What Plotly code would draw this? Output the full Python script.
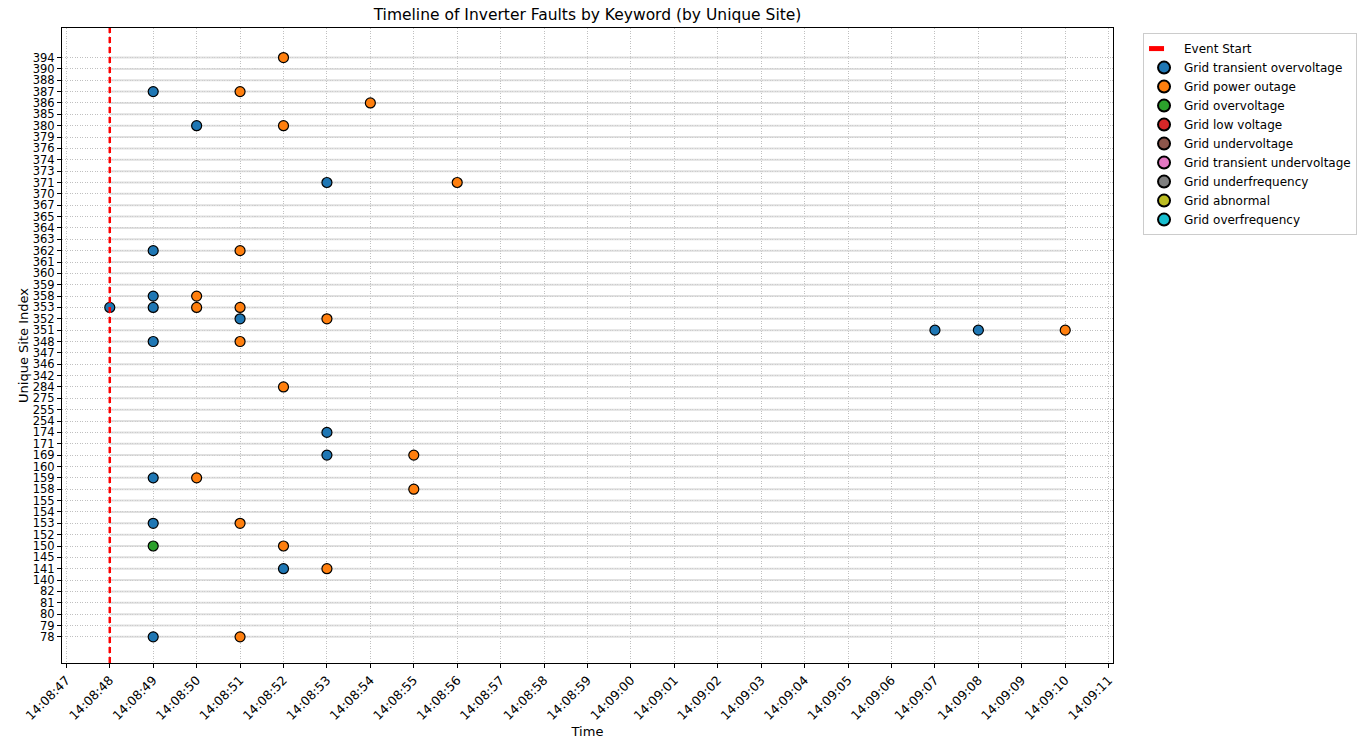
import plotly.graph_objects as go

# ---- data ----
sites = [78, 79, 80, 81, 82, 140, 141, 145, 150, 152, 153, 154, 155, 158, 159, 160,
         169, 171, 174, 254, 255, 275, 284, 342, 346, 347, 348, 351, 352, 353, 358,
         359, 360, 361, 362, 363, 364, 365, 367, 370, 371, 373, 374, 376, 379, 380,
         385, 386, 387, 388, 390, 394]

keywords = ["Grid transient overvoltage", "Grid power outage", "Grid overvoltage",
            "Grid low voltage", "Grid undervoltage", "Grid transient undervoltage",
            "Grid underfrequency", "Grid abnormal", "Grid overfrequency"]
colors = ["#1f77b4", "#ff7f0e", "#2ca02c", "#d62728", "#8c564b", "#e377c2",
          "#7f7f7f", "#bcbd22", "#17becf"]

day = "2024-01-01 "
event_start = day + "14:08:48"

tov_sites = [387, 380, 371, 362, 358, 353, 353, 352, 351, 351, 348, 174, 169, 159, 153, 141, 78]
tov_times = ["14:08:49", "14:08:50", "14:08:53", "14:08:49", "14:08:49", "14:08:48",
             "14:08:49", "14:08:51", "14:09:07", "14:09:08", "14:08:49", "14:08:53",
             "14:08:53", "14:08:49", "14:08:49", "14:08:52", "14:08:49"]

po_sites = [394, 387, 386, 380, 371, 362, 358, 353, 353, 352, 351, 348, 284, 169,
            159, 158, 153, 150, 141, 78]
po_times = ["14:08:52", "14:08:51", "14:08:54", "14:08:52", "14:08:56", "14:08:51",
            "14:08:50", "14:08:50", "14:08:51", "14:08:53", "14:09:10", "14:08:51",
            "14:08:52", "14:08:55", "14:08:50", "14:08:55", "14:08:51", "14:08:52",
            "14:08:53", "14:08:51"]

ov_sites = [150]
ov_times = ["14:08:49"]

series = {
    "Grid transient overvoltage": (tov_sites, tov_times),
    "Grid power outage": (po_sites, po_times),
    "Grid overvoltage": (ov_sites, ov_times),
}

last_time = day + "14:09:10"

# ---- figure ----
idx = {s: i for i, s in enumerate(sites)}
fig = go.Figure()

# light gray per-site lines
lx, ly = [], []
for s in sites:
    lx += [event_start, last_time, None]
    ly += [idx[s], idx[s], None]
fig.add_trace(go.Scatter(x=lx, y=ly, mode="lines", line=dict(color="#d3d3d3", width=2),
                         opacity=0.7, showlegend=False, hoverinfo="skip"))

# event start legend entry
fig.add_trace(go.Scatter(x=[None], y=[None], mode="lines", name="Event Start",
                         line=dict(color="red", dash="dash", width=2)))

for kw, c in zip(keywords, colors):
    if kw in series:
        ss, tt = series[kw]
        xs = [day + t for t in tt]
        ys = [idx[s] for s in ss]
    else:
        xs, ys = [None], [None]
    fig.add_trace(go.Scatter(x=xs, y=ys, mode="markers", name=kw,
                             marker=dict(color=c, size=10,
                                         line=dict(color="black", width=1.2))))

fig.add_shape(type="line", x0=event_start, x1=event_start, y0=0, y1=1,
              xref="x", yref="paper", line=dict(color="red", dash="6px,4px", width=2.5))

xticks = [day + "14:08:%02d" % s for s in range(47, 60)] + \
         [day + "14:09:%02d" % s for s in range(0, 12)]

fig.update_layout(
    width=1368, height=747,
    margin=dict(l=62, r=254, t=28, b=84),
    paper_bgcolor="white", plot_bgcolor="white",
    font=dict(family="DejaVu Sans", size=12, color="black"),
    title=dict(text="Timeline of Inverter Faults by Keyword (by Unique Site)",
               x=0.5, xref="paper", xanchor="center", y=1 - 15 / 747, yanchor="middle",
               font=dict(size=15.5)),
    legend=dict(x=1.0276, y=0.992, xanchor="left", yanchor="top",
                bordercolor="#cccccc", borderwidth=1, font=dict(size=12),
                tracegroupgap=0, itemsizing="constant"),
    xaxis=dict(type="date", range=[day + "14:08:46.9", day + "14:09:11.1"],
               tickvals=xticks, tickformat="%H:%M:%S", tickangle=-45,
               showgrid=True, gridcolor="#c0c0c0", griddash="1px,1.5px", gridwidth=1,
               showline=True, linecolor="black", linewidth=1, mirror=True,
               ticks="outside", ticklen=4, tickcolor="black",
               tickfont=dict(size=12.5),
               title=dict(text="Time", font=dict(size=13), standoff=4),
               zeroline=False),
    yaxis=dict(range=[-2.3, 53.6], tickvals=list(range(len(sites))),
               ticktext=[str(s) for s in sites],
               showgrid=True, gridcolor="#c0c0c0", griddash="1px,1.5px", gridwidth=1,
               showline=True, linecolor="black", linewidth=1, mirror=True,
               ticks="outside", ticklen=4, tickcolor="black",
               tickfont=dict(size=11.5),
               title=dict(text="Unique Site Index", font=dict(size=13), standoff=1),
               zeroline=False),
)

fig.write_html("out.html",
               config={"displayModeBar": False},
               post_script="document.body.style.margin='0';document.body.style.padding='0';")
